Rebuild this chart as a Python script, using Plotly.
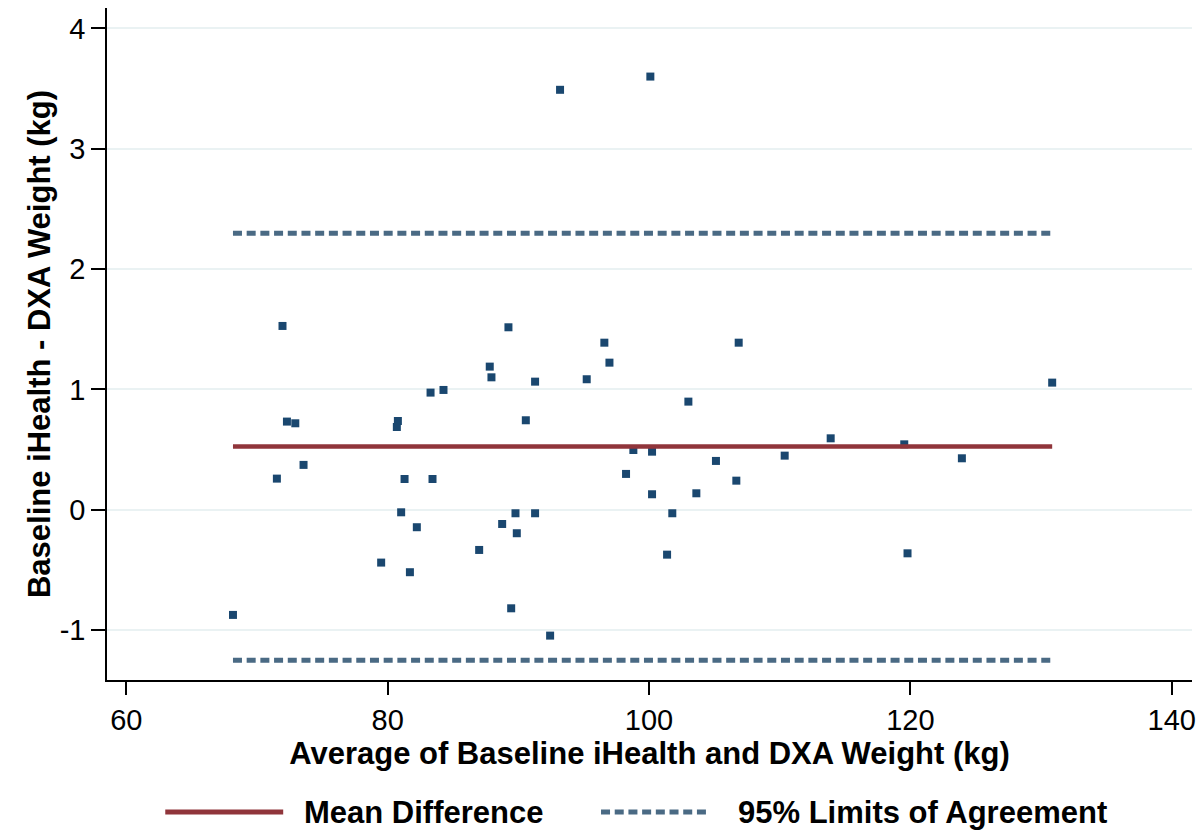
import plotly.graph_objects as go

# Average of baseline iHealth and DXA weight (kg)
avg_weight = [
    93.19, 100.10,
    71.95, 72.29, 72.93, 73.56, 71.52, 68.16, 79.50,
    80.78, 80.70, 83.28, 84.27, 81.29, 83.43, 81.03, 82.23, 81.70,
    89.24, 87.81, 87.94, 91.28, 90.57, 95.23, 96.58, 96.97,
    87.00, 88.76, 89.78, 89.88, 91.28, 89.45, 92.43,
    98.24, 98.80, 100.23, 100.23, 101.38, 101.78, 103.01, 103.62, 105.12, 106.68, 106.86,
    110.38, 113.90, 119.53, 119.78, 123.94, 130.85,
]
# Difference: baseline iHealth - DXA weight (kg)
diff_weight = [
    3.49, 3.60,
    1.527, 0.732, 0.718, 0.372, 0.258, -0.875, -0.44,
    0.737, 0.687, 0.973, 0.995, 0.255, 0.255, -0.022, -0.146, -0.52,
    1.516, 1.189, 1.10, 1.064, 0.743, 1.084, 1.388, 1.222,
    -0.335, -0.119, -0.030, -0.196, -0.030, -0.82, -1.047,
    0.297, 0.496, 0.482, 0.128, -0.374, -0.030, 0.898, 0.136, 0.405, 0.241, 1.388,
    0.449, 0.593, 0.543, -0.363, 0.427, 1.056,
]
mean_diff = 0.524
loa_lower = -1.252
loa_upper = 2.298

x_ticks = [60, 80, 100, 120, 140]
y_ticks = [-1, 0, 1, 2, 3, 4]
legend_labels = ["Mean Difference", "95% Limits of Agreement"]

NAVY = "#1a476f"
MAROON = "#90353b"
SLATE = "#4a6a84"
GRID = "#eaf2f3"
FONT = "Liberation Sans, Arial, sans-serif"

x_lo, x_hi = min(avg_weight), max(avg_weight)

fig = go.Figure()
fig.add_trace(go.Scatter(
    x=avg_weight, y=diff_weight, mode="markers",
    marker=dict(symbol="square", size=8, color=NAVY, line=dict(width=0)),
    showlegend=False, name="Difference",
))
fig.add_trace(go.Scatter(
    x=[x_lo, x_hi], y=[mean_diff, mean_diff], mode="lines",
    line=dict(color=MAROON, width=4.5), showlegend=False, name=legend_labels[0],
))
for v in (loa_upper, loa_lower):
    fig.add_trace(go.Scatter(
        x=[x_lo, x_hi], y=[v, v], mode="lines",
        line=dict(color=SLATE, width=5, dash="9px,4.7px"),
        showlegend=False, name=legend_labels[1],
    ))

# The page body has an 8px margin; lay out in page pixels and compensate.
OFF = 8
FIG_W, FIG_H = 1204 - OFF, 834 - OFF
L, R, T, B = 106.7 - OFF, 1192.3 - OFF, 8 - OFF, 680 - OFF
W, H = R - L, B - T
def px(xp):
    return (xp - OFF - L) / W
def py(yp):
    return (B - (yp - OFF)) / H

leg_y = py(812)
fig.add_shape(type="line", xref="paper", yref="paper",
              x0=px(165), x1=px(283), y0=leg_y, y1=leg_y,
              line=dict(color=MAROON, width=5))
fig.add_shape(type="line", xref="paper", yref="paper",
              x0=px(601), x1=px(707), y0=leg_y, y1=leg_y,
              line=dict(color=SLATE, width=5, dash="9px,4.7px"))
fig.add_annotation(xref="paper", yref="paper", x=px(302), y=leg_y,
                   text=legend_labels[0], showarrow=False, xanchor="left", yanchor="middle",
                   font=dict(family=FONT, size=31, color="black", weight="bold"))
fig.add_annotation(xref="paper", yref="paper", x=px(736), y=leg_y,
                   text=legend_labels[1], showarrow=False, xanchor="left", yanchor="middle",
                   font=dict(family=FONT, size=31, color="black", weight="bold"))

fig.update_layout(
    width=FIG_W, height=FIG_H,
    margin=dict(l=L, r=FIG_W - R, t=T, b=FIG_H - B, pad=0, autoexpand=False),
    paper_bgcolor="white", plot_bgcolor="white",
    font=dict(family=FONT, color="black"),
    xaxis=dict(
        range=[58.52, 141.55], tickvals=x_ticks, ticktext=[str(t) for t in x_ticks],
        ticks="outside", ticklen=13, tickwidth=1.5, tickcolor="black",
        tickfont=dict(family=FONT, size=29, color="black"),
        showgrid=False, zeroline=False, automargin=False,
        showline=True, linecolor="black", linewidth=1.5,
        title=dict(text="Average of Baseline iHealth and DXA Weight (kg)",
                   font=dict(family=FONT, size=31, color="black", weight="bold"),
                   standoff=8),
    ),
    yaxis=dict(
        range=[-1.416, 4.17], tickvals=y_ticks, ticktext=[str(t) for t in y_ticks],
        ticks="outside", ticklen=14, tickwidth=1.5, tickcolor="black",
        tickfont=dict(family=FONT, size=29, color="black"),
        showgrid=True, gridcolor=GRID, gridwidth=2, zeroline=False, automargin=False,
        showline=True, linecolor="black", linewidth=1.5,
        title=dict(text="Baseline iHealth - DXA Weight (kg)",
                   font=dict(family=FONT, size=31, color="black", weight="bold"),
                   standoff=0),
    ),
)

fig.write_html("out.html")
